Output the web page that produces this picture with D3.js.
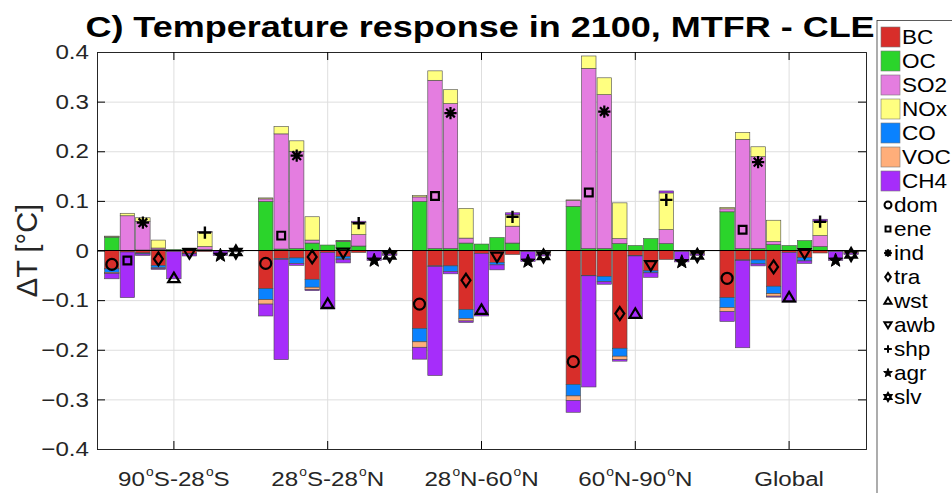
<!DOCTYPE html>
<html>
<head>
<meta charset="utf-8">
<script src="https://cdn.jsdelivr.net/npm/d3@7"></script>
<style>
  body { margin: 0; background: #fff; }
  svg { font-family: "Liberation Sans", Arial, sans-serif; }
</style>
</head>
<body>
<svg id="chart" width="952" height="493"></svg>
<script>
// regions on the x axis, sectors inside each region, species stacked in each bar
var regionLabels = ["90^oS-28^oS", "28^oS-28^oN", "28^oN-60^oN", "60^oN-90^oN", "Global"];
var sectors = ["dom", "ene", "ind", "tra", "wst", "awb", "shp", "agr", "slv"];
var species = ["BC", "OC", "SO2", "NOx", "CO", "VOC", "CH4"];
var speciesColors = ["#d82e2a", "#2bd42b", "#e47de0", "#ffff80", "#0a82ff", "#ffae7a", "#a62dfa"];
var yTicks = [-0.4, -0.3, -0.2, -0.1, 0, 0.1, 0.2, 0.3, 0.4];

// rows = regions, columns = sectors (dom..slv), values in degC
var BC = [
  [-0.037, -0.003, -0.005, -0.030, -0.002, -0.006, -0.002, 0, 0],
  [-0.077, -0.016, -0.015, -0.058, -0.004, -0.012, -0.004, 0, -0.001],
  [-0.157, -0.031, -0.031, -0.119, -0.006, -0.024, -0.008, -0.001, -0.001],
  [-0.270, -0.050, -0.052, -0.197, -0.010, -0.041, -0.018, -0.001, -0.001],
  [-0.095, -0.019, -0.019, -0.072, -0.004, -0.014, -0.005, -0.001, 0]];
var OC = [
  [0.027, 0, 0.001, 0.002, 0.002, 0.004, 0.002, 0, 0],
  [0.099, 0.003, 0.004, 0.015, 0.011, 0.018, 0.009, 0, 0],
  [0.099, 0.004, 0.004, 0.015, 0.013, 0.026, 0.015, 0, 0],
  [0.089, 0.004, 0.004, 0.014, 0.010, 0.024, 0.014, 0, 0],
  [0.078, 0.004, 0.004, 0.012, 0.010, 0.020, 0.008, 0, 0]];
var SO2 = [
  [0.001, 0.070, 0.058, 0.003, 0, 0, 0.006, 0, 0],
  [0.005, 0.232, 0.196, 0.006, 0, 0.001, 0.023, 0, 0],
  [0.009, 0.339, 0.292, 0.010, 0, 0, 0.034, 0, 0],
  [0.012, 0.363, 0.310, 0.010, 0, 0, 0.028, 0, 0],
  [0.006, 0.220, 0.185, 0.006, 0, 0, 0.022, 0, 0]];
var NOx = [
  [0.001, 0.005, 0.007, 0.016, 0, 0.001, 0.029, 0, 0],
  [0.002, 0.015, 0.021, 0.047, 0, 0.001, 0.024, 0, 0],
  [0.003, 0.019, 0.028, 0.060, 0, 0, 0.023, 0, 0],
  [0.001, 0.025, 0.034, 0.072, 0, 0, 0.074, 0, 0],
  [0.003, 0.014, 0.020, 0.043, 0, 0, 0.029, 0, 0]];
var CO = [
  [-0.007, 0, -0.002, -0.005, 0, -0.001, 0, 0, 0],
  [-0.022, -0.002, -0.011, -0.016, 0, -0.005, 0, 0, -0.001],
  [-0.027, -0.001, -0.011, -0.018, 0, -0.005, 0, 0, -0.001],
  [-0.023, -0.001, -0.011, -0.016, -0.001, -0.004, 0, 0, 0],
  [-0.020, -0.001, -0.008, -0.015, 0, -0.007, 0, 0, -0.001]];
var VOC = [
  [-0.002, 0, 0, -0.001, 0, 0, 0, -0.001, -0.002],
  [-0.009, 0, 0, -0.005, 0, -0.001, 0, -0.001, -0.005],
  [-0.011, 0, 0, -0.005, 0, 0, 0, -0.001, -0.006],
  [-0.009, 0, 0, -0.007, 0, 0, 0, -0.001, -0.006],
  [-0.008, 0, 0, -0.005, 0, 0, 0, -0.001, -0.004]];
var CH4 = [
  [-0.011, -0.092, -0.003, -0.002, -0.055, -0.004, 0.001, -0.009, -0.001],
  [-0.024, -0.202, -0.004, -0.002, -0.114, -0.007, 0.003, -0.019, -0.003],
  [-0.024, -0.220, -0.005, -0.003, -0.126, -0.010, 0.004, -0.020, -0.003],
  [-0.024, -0.224, -0.005, -0.003, -0.126, -0.009, 0.004, -0.021, -0.003],
  [-0.020, -0.176, -0.004, -0.002, -0.100, -0.005, 0.004, -0.018, -0.003]];
var speciesData = [BC, OC, SO2, NOx, CO, VOC, CH4];

// marker shapes for the sectors
function pathType(fn) { return { draw: fn }; }
function polyAt(c, pts) {
  pts.forEach(function (p, j) { if (j === 0) c.moveTo(p[0], p[1]); else c.lineTo(p[0], p[1]); });
  c.closePath();
}
var diamondTall = pathType(function (c, s) {
  var r = Math.sqrt(s) / 2;
  polyAt(c, [[0, -r * 1.45], [r, 0], [0, r * 1.45], [-r, 0]]);
});
var triUp = pathType(function (c, s) {
  var r = Math.sqrt(s) / 2;
  polyAt(c, [[0, -r * 1.1], [r * 1.2, r * 0.9], [-r * 1.2, r * 0.9]]);
});
var triDown = pathType(function (c, s) {
  var r = Math.sqrt(s) / 2;
  polyAt(c, [[0, r * 1.1], [r * 1.2, -r * 0.9], [-r * 1.2, -r * 0.9]]);
});
var plusLine = pathType(function (c, s) {
  var r = Math.sqrt(s) / 2;
  c.moveTo(-r, 0); c.lineTo(r, 0); c.moveTo(0, -r); c.lineTo(0, r);
});
var asterisk8 = pathType(function (c, s) {
  var r = Math.sqrt(s) / 2;
  for (var j = 0; j < 4; j++) {
    var a = j * Math.PI / 4;
    c.moveTo(-r * Math.cos(a), -r * Math.sin(a)); c.lineTo(r * Math.cos(a), r * Math.sin(a));
  }
});
var hexagram = pathType(function (c, s) {
  var r = Math.sqrt(s) / 2;
  [-Math.PI / 2, Math.PI / 2].forEach(function (a0) {
    polyAt(c, [0, 1, 2].map(function (j) {
      var a = a0 + j * 2 * Math.PI / 3;
      return [r * Math.cos(a), r * Math.sin(a)];
    }));
  });
});
var starFive = pathType(function (c, s) {
  var r = Math.sqrt(s) / 2, ri = r * 0.42;
  polyAt(c, d3.range(10).map(function (j) {
    var a = -Math.PI / 2 + j * Math.PI / 5, rr = j % 2 ? ri : r;
    return [rr * Math.cos(a), rr * Math.sin(a)];
  }));
});
var markerTypes = [d3.symbolCircle, d3.symbolSquare, asterisk8, diamondTall, triUp, triDown, plusLine, starFive, hexagram];
var markerSizes = [95, 60, 150, 80, 90, 90, 150, 210, 160];
var markerFilled = [false, false, false, false, false, false, false, true, false];
var markerStroke = [2.2, 2.2, 2.2, 2.2, 2.2, 2.2, 2.4, 1, 2.4];

var svg = d3.select("#chart");
var plotL = 97, plotR = 866, plotT = 52, plotB = 449;
var textStretch = 1.15;

var x = d3.scaleBand().domain(d3.range(regionLabels.length)).range([plotL, plotR]).padding(0);
var bw = x.bandwidth();
var xs = d3.scaleBand().domain(sectors).range([-0.45 * bw, 0.45 * bw]).paddingInner(0.07).paddingOuter(0);
var y = d3.scaleLinear().domain([-0.4, 0.4]).range([plotB, plotT]);

// grid
svg.append("g").attr("transform", "translate(" + plotL + ",0)")
  .call(d3.axisLeft(y).tickValues(yTicks).tickSize(-(plotR - plotL)).tickFormat(""))
  .call(function (g) { g.select(".domain").remove(); g.selectAll("line").attr("stroke", "#dedede"); });
svg.append("g").attr("transform", "translate(0," + plotB + ")")
  .call(d3.axisBottom(x).tickSize(-(plotB - plotT)).tickFormat(""))
  .call(function (g) { g.select(".domain").remove(); g.selectAll("line").attr("stroke", "#dedede"); });

// stacked bars
var rects = [], marks = [];
regionLabels.forEach(function (lab, r) {
  sectors.forEach(function (sec, s) {
    var pos = 0, neg = 0, net = 0;
    var cx = x(r) + bw / 2 + xs(sec) + xs.bandwidth() / 2;
    species.forEach(function (sp, k) {
      var v = speciesData[k][r][s];
      net += v;
      var y0, y1;
      if (v >= 0) { y0 = pos; y1 = pos + v; pos = y1; } else { y0 = neg; y1 = neg + v; neg = y1; }
      if (v !== 0) rects.push({ cx: cx, y0: y0, y1: y1, k: k });
    });
    marks.push({ cx: cx, net: net, s: s });
  });
});

svg.append("g").selectAll("rect").data(rects).enter().append("rect")
  .attr("x", function (d) { return d.cx - xs.bandwidth() / 2; })
  .attr("width", xs.bandwidth())
  .attr("y", function (d) { return y(Math.max(d.y0, d.y1)); })
  .attr("height", function (d) { return Math.abs(y(d.y0) - y(d.y1)); })
  .attr("fill", function (d) { return speciesColors[d.k]; })
  .attr("stroke", "#4a4a4a").attr("stroke-width", 0.6);

// zero line
svg.append("line").attr("x1", plotL).attr("x2", plotR).attr("y1", y(0)).attr("y2", y(0))
  .attr("stroke", "#000").attr("stroke-width", 1.2);

// net markers
svg.append("g").selectAll("path").data(marks).enter().append("path")
  .attr("transform", function (d) { return "translate(" + d.cx + "," + y(d.net) + ")"; })
  .attr("d", function (d) { return d3.symbol().type(markerTypes[d.s]).size(markerSizes[d.s])(); })
  .attr("fill", function (d) { return markerFilled[d.s] ? "#000" : "none"; })
  .attr("stroke", "#000").attr("stroke-width", function (d) { return markerStroke[d.s]; })
  .attr("stroke-linejoin", "miter");

// axes
var axisColor = "#262626";
var yAxis = svg.append("g").attr("transform", "translate(" + plotL + ",0)")
  .call(d3.axisLeft(y).tickValues(yTicks).tickSize(-8).tickPadding(7).tickFormat(function (d) { return d === 0 ? "0" : d3.format(".1f")(d); }));
yAxis.selectAll("text").attr("font-size", "21px").attr("fill", axisColor)
  .attr("font-family", "Liberation Sans, Arial, sans-serif")
  .attr("transform", "scale(" + textStretch + ",1)");
svg.append("g").attr("transform", "translate(" + plotR + ",0)")
  .call(d3.axisRight(y).tickValues(yTicks).tickSize(-8).tickFormat(""));
svg.append("g").attr("transform", "translate(0," + plotT + ")")
  .call(d3.axisTop(x).tickSize(-8).tickFormat(""));
var xAxis = svg.append("g").attr("transform", "translate(0," + plotB + ")")
  .call(d3.axisBottom(x).tickSize(-8).tickPadding(22).tickFormat(""));
xAxis.selectAll(".tick").each(function (d) {
  var t = d3.select(this).select("text")
    .attr("font-size", "21px").attr("fill", axisColor).attr("font-family", "Liberation Sans, Arial, sans-serif")
    .attr("dy", "0.71em").attr("transform", "scale(" + textStretch + ",1)");
  var parts = regionLabels[d].split("^o");
  parts.forEach(function (p, i) {
    if (i > 0) {
      t.append("tspan").attr("font-size", "12px").attr("dy", -10).attr("dx", 1).text("o");
      t.append("tspan").attr("dy", 10).text(p);
    } else {
      t.append("tspan").text(p);
    }
  });
});
svg.selectAll(".domain").attr("stroke", axisColor);

// y label
svg.append("text").attr("transform", "translate(37," + ((plotT + plotB) / 2) + ") rotate(-90)")
  .attr("text-anchor", "middle").attr("font-size", "29px").attr("fill", axisColor)
  .text("\u0394T [\u00B0C]");

// title
svg.append("text").attr("transform", "translate(480,37) scale(1.2,1)").attr("text-anchor", "middle")
  .attr("font-size", "30px").attr("font-weight", "bold").attr("fill", "#000")
  .text("C) Temperature response in 2100, MTFR - CLE");

// legend
var lg = svg.append("g");
lg.append("rect").attr("x", 877).attr("y", 20.5).attr("width", 90).attr("height", 490)
  .attr("fill", "#fff").attr("stroke", "#333").attr("stroke-width", 0.8);
species.forEach(function (sp, i) {
  var cy = 37 + i * 24;
  lg.append("rect").attr("x", 881).attr("y", cy - 10).attr("width", 19).attr("height", 20)
    .attr("fill", speciesColors[i]).attr("stroke", "#777").attr("stroke-width", 0.6);
  lg.append("text").attr("transform", "translate(902," + cy + ") scale(1.1,1)")
    .attr("dy", "0.36em").attr("font-size", "20.5px").attr("fill", "#000").text(sp);
});
sectors.forEach(function (sec, i) {
  var cy = 37 + (species.length + i) * 24;
  lg.append("path").attr("transform", "translate(888," + cy + ")")
    .attr("d", d3.symbol().type(markerTypes[i]).size(markerSizes[i] * 0.4)())
    .attr("fill", markerFilled[i] ? "#000" : "none").attr("stroke", "#000")
    .attr("stroke-width", Math.min(markerStroke[i], 2));
  lg.append("text").attr("transform", "translate(894," + cy + ") scale(1.1,1)")
    .attr("dy", "0.36em").attr("font-size", "20.5px").attr("fill", "#000").text(sec);
});
</script>
</body>
</html>
